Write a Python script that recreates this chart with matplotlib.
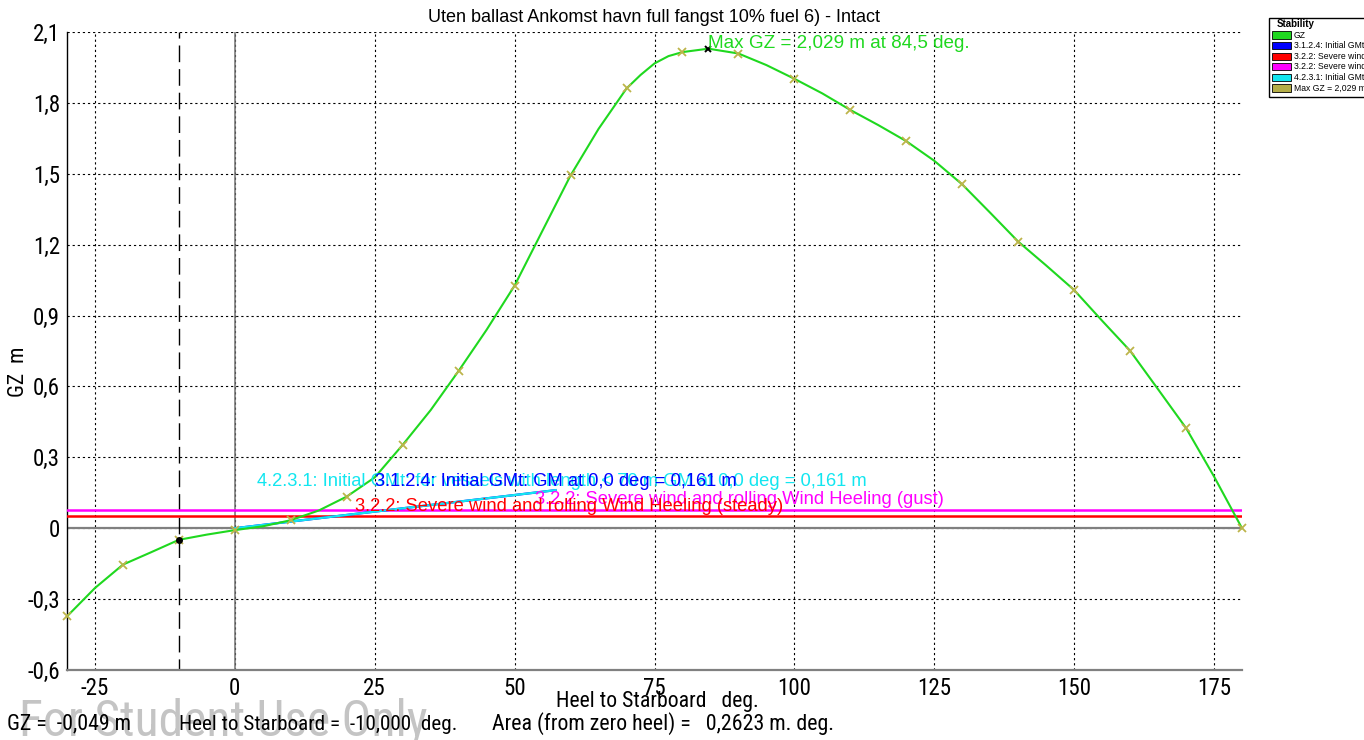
import numpy as np
import matplotlib
matplotlib.use("Agg")
import matplotlib.pyplot as plt
from matplotlib import font_manager as fm
from matplotlib.patches import Rectangle
from matplotlib.ticker import FixedLocator, FuncFormatter

# ---- data -------------------------------------------------------------
TITLE = "Uten ballast Ankomst havn full fangst 10% fuel 6) - Intact"

heel_deg = [-30, -25, -20, -15, -10, -5, 0, 5, 10, 15, 20, 25, 30, 35, 40,
            45, 50, 55, 60, 65, 70, 72.5, 75, 77.5, 80, 84.5, 85, 90, 95,
            100, 105, 110, 115, 120, 125, 130, 135, 140, 145, 150, 155, 160,
            165, 170, 175, 180]
gz_m = [-0.373, -0.253, -0.154, -0.102, -0.049, -0.027, -0.008, 0.008,
        0.034, 0.075, 0.134, 0.215, 0.353, 0.500, 0.666, 0.840, 1.027,
        1.260, 1.493, 1.690, 1.861, 1.918, 1.967, 1.998, 2.015, 2.029,
        2.028, 2.009, 1.960, 1.902, 1.840, 1.770, 1.706, 1.638, 1.555,
        1.455, 1.335, 1.213, 1.112, 1.008, 0.878, 0.751, 0.588, 0.424,
        0.219, 0.000]

MAX_GZ = 2.029
MAX_GZ_HEEL = 84.5
GM0 = 0.161
GM_HEEL_END = 57.3
WIND_STEADY = 0.050
WIND_GUST = 0.075
CURSOR_HEEL = -10.0
CURSOR_GZ = -0.049
AREA_FROM_ZERO = 0.2623

x_ticks = [-25, 0, 25, 50, 75, 100, 125, 150, 175]
y_ticks = [-0.6, -0.3, 0.0, 0.3, 0.6, 0.9, 1.2, 1.5, 1.8, 2.1]

legend_title = "Stability"
legend_labels = ["GZ", "3.1.2.4: Initial GMt", "3.2.2: Severe wind",
                 "3.2.2: Severe wind", "4.2.3.1: Initial GMt",
                 "Max GZ = 2,029 m"]

# ---- style ------------------------------------------------------------
SANS = "Liberation Sans"


def pick_narrow():
    entries = fm.fontManager.ttflist
    for name in ["Liberation Sans Narrow", "Arial Narrow", "Roboto Condensed",
                 "Noto Sans Condensed", "Open Sans Condensed",
                 "Noto Sans SemiCondensed"]:
        for e in entries:
            if e.name == name and e.style == "normal" and \
                    str(e.weight) in ("400", "normal", "regular", "book"):
                return fm.FontProperties(fname=e.fname)
    for name in ["Roboto", "Noto Sans", "Open Sans", "DejaVu Sans"]:
        for e in entries:
            if e.name == name and e.style == "normal" and \
                    str(e.stretch) in ("condensed", "semi-condensed") and \
                    str(e.weight) in ("400", "normal", "regular", "book"):
                return fm.FontProperties(fname=e.fname)
    return fm.FontProperties(family=SANS)


NARROW = pick_narrow()

GREEN = "#1fd81f"
BLUE = "#0000ff"
RED = "#ff0000"
MAGENTA = "#ff00ff"
CYAN = "#12e6f0"
OLIVE = "#bdb44a"
legend_colors = [GREEN, BLUE, RED, MAGENTA, CYAN, "#b4ae48"]

W, H = 1364, 740


def fx(px):
    return px / W


def fy(py):
    return 1 - py / H


def comma(v, _pos=None):
    if abs(v) < 1e-9:
        return "0"
    if float(v).is_integer():
        return f"{int(v)}"
    return f"{v:.1f}".replace(".", ",")


def narrow(size):
    fp = NARROW.copy()
    fp.set_size(size)
    return fp


fig = plt.figure(figsize=(W / 100, H / 100), dpi=100)
fig.patch.set_facecolor("white")

ax_l, ax_r, ax_t, ax_b = 67, 1242, 32, 670
ax = fig.add_axes([fx(ax_l), fy(ax_b), fx(ax_r - ax_l), (ax_b - ax_t) / H])
ax.set_xlim(-30, 180)
ax.set_ylim(-0.6, 2.1)

# grid
ax.xaxis.set_major_locator(FixedLocator(x_ticks))
ax.yaxis.set_major_locator(FixedLocator(y_ticks))
ax.grid(True, color="black", linestyle=(0, (2, 2.6)), linewidth=0.8)
ax.set_axisbelow(True)

for side in ("top", "right"):
    ax.spines[side].set_visible(False)
ax.spines["left"].set_color("black")
ax.spines["left"].set_linewidth(1.0)
ax.spines["bottom"].set_color("#808080")
ax.spines["bottom"].set_linewidth(1.6)

ax.tick_params(length=0, pad=5)
ax.xaxis.set_major_formatter(FuncFormatter(comma))
ax.yaxis.set_major_formatter(FuncFormatter(comma))

# reference axes through origin
ax.axhline(0, color="#808080", linewidth=1.6, zorder=2)
ax.axvline(0, color="#707070", linewidth=1.1, zorder=2)
ax.axvline(CURSOR_HEEL, color="black", linewidth=1.0,
           linestyle=(4, (12, 5)), zorder=2)

# heeling arm lines
ax.axhline(WIND_GUST, color=MAGENTA, linewidth=1.8, zorder=3)
ax.axhline(WIND_STEADY, color=RED, linewidth=1.8, zorder=3)

# initial GM lines
ax.plot([0, GM_HEEL_END], [0, GM0], color=BLUE, linewidth=1.6, zorder=3)
ax.plot([0, GM_HEEL_END], [0, GM0], color=CYAN, linewidth=1.6, zorder=3)

# GZ curve
hx = np.array(heel_deg, dtype=float)
gz = np.array(gz_m, dtype=float)
ax.plot(hx, gz, color=GREEN, linewidth=1.5, zorder=4, clip_on=False,
        solid_joinstyle="round")
mask = np.isclose(hx % 10, 0)
ax.plot(hx[mask], gz[mask], linestyle="none", marker="x", markersize=5.5,
        markeredgewidth=1.3, color=OLIVE, zorder=5, clip_on=False)

# max GZ and cursor markers
ax.plot([MAX_GZ_HEEL], [MAX_GZ], marker="x", markersize=5,
        markeredgewidth=1.4, color="black", zorder=6)
ax.plot([CURSOR_HEEL], [CURSOR_GZ], marker="o", markersize=4,
        color="black", zorder=6)

# annotations
ann_fs = 13.2
gm_txt = f"{GM0:.3f}".replace(".", ",")
ax.text(3.9, 0.197, "4.2.3.1: Initial GMt: for vessels with length < 70 m "
        "GM at 0,0 deg = " + gm_txt + " m",
        color=CYAN, fontsize=ann_fs, family=SANS, va="center", ha="left",
        zorder=7)
ax.text(25.0, 0.197, "3.1.2.4: Initial GMt: GM at 0,0 deg = " + gm_txt + " m",
        color=BLUE, fontsize=ann_fs, family=SANS, va="center", ha="left",
        zorder=8)
ax.text(53.6, 0.121, "3.2.2: Severe wind and rolling Wind Heeling (gust)",
        color=MAGENTA, fontsize=ann_fs, family=SANS, va="center", ha="left",
        zorder=7)
ax.text(21.4, 0.091, "3.2.2: Severe wind and rolling Wind Heeling (steady)",
        color=RED, fontsize=ann_fs, family=SANS, va="center", ha="left",
        zorder=8)
ax.text(MAX_GZ_HEEL, MAX_GZ + 0.024,
        "Max GZ = " + f"{MAX_GZ:.3f}".replace(".", ",") + " m at "
        + f"{MAX_GZ_HEEL:.1f}".replace(".", ",") + " deg.",
        color=GREEN, fontsize=13.6, family=SANS, va="center", ha="left",
        zorder=8)

# title and axis labels
title = fig.text(fx(654), fy(18), TITLE, ha="center", va="center",
                 fontsize=13, family=SANS)
xlab = fig.text(fx(657), fy(702), "Heel to Starboard   deg.", ha="center",
                va="center", fontproperties=narrow(15))
ylab = fig.text(fx(19), fy(372), "GZ  m", ha="center", va="center",
                rotation=90, fontproperties=narrow(15))

# watermark and status line
mark = fig.text(fx(19), fy(735), "For Student Use Only", ha="left",
                va="baseline", fontproperties=narrow(37), color="#c4c4c4",
                zorder=0)
st1 = fig.text(fx(7), fy(724), "GZ =  " + f"{CURSOR_GZ:.3f}".replace(".", ",")
               + " m", ha="left", va="center", fontproperties=narrow(15))
st2 = fig.text(fx(179), fy(724), "Heel to Starboard =  "
               + f"{CURSOR_HEEL:.3f}".replace(".", ",") + "  deg.",
               ha="left", va="center", fontproperties=narrow(15))
st3 = fig.text(fx(492), fy(724), "Area (from zero heel) =   "
               + f"{AREA_FROM_ZERO:.4f}".replace(".", ",") + " m. deg.",
               ha="left", va="center", fontproperties=narrow(15))

# legend box
frame = Rectangle((fx(1269), fy(97)), fx(1364 - 1269) + 0.01,
                  (97 - 18) / H, transform=fig.transFigure,
                  facecolor="white", edgecolor="black", linewidth=1.0)
fig.patches.append(frame)
fig.text(fx(1277), fy(24), legend_title, fontsize=7, weight="bold",
         family=SANS, va="center", ha="left")
for i, (lab, col) in enumerate(zip(legend_labels, legend_colors)):
    yc = 35 + i * 10.6
    sw = Rectangle((fx(1272), fy(yc + 3.5)), fx(19), 7 / H,
                   transform=fig.transFigure, facecolor=col,
                   edgecolor="black", linewidth=0.6)
    fig.patches.append(sw)
    t = fig.text(fx(1294), fy(yc), lab, fontsize=6.2, family=SANS,
                 va="center", ha="left")
    t.set_clip_path(frame)
    t.set_clip_on(True)

# size the condensed texts to their widths on the sheet
for lab in ax.get_xticklabels() + ax.get_yticklabels():
    lab.set_fontproperties(narrow(15))
fig.canvas.draw()
renderer = fig.canvas.get_renderer()


def fit(t, target_px):
    w = t.get_window_extent(renderer).width
    t.set_fontsize(t.get_fontsize() * target_px / w)


fit(st1, 124)
fit(st2, 279)
fit(st3, 343)
fit(xlab, 203)
fit(mark, 409)
ylab.set_fontsize(xlab.get_fontsize())
ref = [lab for lab in ax.get_xticklabels() if lab.get_text() == "100"]
if ref:
    w100 = ref[0].get_window_extent(renderer).width
    tick_fs = 15 * 34 / w100
    ax.tick_params(labelsize=tick_fs)
    for lab in ax.get_xticklabels() + ax.get_yticklabels():
        lab.set_fontproperties(narrow(tick_fs))

fig.savefig("out.png", dpi=100)
